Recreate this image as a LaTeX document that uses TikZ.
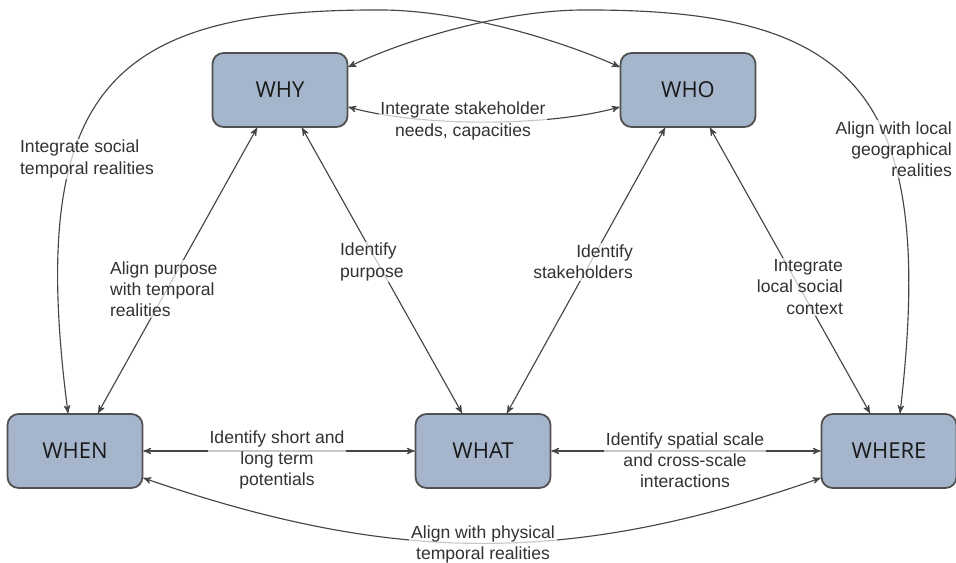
\documentclass[tikz,border=0pt]{standalone}
\usepackage{fontspec}
\setmainfont{Liberation Sans}
\newfontfamily\boxfont{Open Sans}
\usetikzlibrary{arrows,shapes}
\definecolor{boxblue}{RGB}{165,181,203}
\definecolor{boxline}{RGB}{80,80,80}
\definecolor{linkgray}{RGB}{70,70,70}
\definecolor{textgray}{RGB}{50,50,50}

\begin{document}
\begin{tikzpicture}[>=stealth',x=0.02cm,y=-0.02cm]
  \tikzset{box/.style={draw=boxline,line width=1pt,fill=boxblue,rounded corners=0.22cm,
                       minimum width=2.7cm,minimum height=1.48cm,
                       font=\boxfont\fontsize{12.5}{14}\selectfont,text=black!90},
           link/.style={<->,draw=linkgray,line width=0.65pt},
           lbl/.style={font=\fontsize{10}{12}\selectfont,text=textgray,inner sep=1pt,
                       fill=white,fill opacity=0.7,text opacity=1}}
  \useasboundingbox (0,0) rectangle (956,563);
  % the five questions
  \node[box] (why)   at (280,90)  {WHY};
  \node[box] (who)   at (688,90)  {WHO};
  \node[box] (when)  at (75,451)  {WHEN};
  \node[box] (what)  at (483,451) {WHAT};
  \node[box] (where) at (889,451) {WHERE};
  % straight links
  \path[link] ([xshift=-0.46cm]why.south) -- ([xshift=0.46cm]when.north);
  \path[link] ([xshift=0.44cm]why.south)  -- ([xshift=-0.42cm]what.north);
  \path[link] ([xshift=-0.46cm]who.south) -- ([xshift=0.48cm]what.north);
  \path[link] ([xshift=0.44cm]who.south)  -- ([xshift=-0.38cm]where.north);
  \path[link] (when) -- (what);
  \path[link] (what) -- (where);
  % curved links
  \path[link] ([yshift=-0.34cm]why.east) .. controls (420,127) and (548,127) .. ([yshift=-0.34cm]who.west);
  \path[link] ([yshift=-0.54cm]when.east) .. controls (395,565) and (572,565) .. ([yshift=-0.54cm]where.west);
  \path[link] ([xshift=-0.14cm]when.north) .. controls (26,90) and (110,9) .. (380,10)
              .. controls (460,10) and (560,40) .. ([yshift=0.46cm]who.west);
  \path[link] ([xshift=0.22cm]where.north) .. controls (938,90) and (854,9) .. (584,10)
              .. controls (504,10) and (404,40) .. ([yshift=0.46cm]why.east);
  % labels
  \node[lbl,align=center] (l-whywho)    at (463,121) {Integrate stakeholder\\needs, capacities};
  \node[lbl,align=center] (l-whenwhat)  at (277,460) {Identify short and\\long term\\potentials};
  \node[lbl,align=center] (l-whatwhere) at (685,460) {Identify spatial scale\\and cross-scale\\interactions};
  \node[lbl,align=center] (l-whenwhere) at (483,544) {Align with physical\\temporal realities};
  \node[lbl,align=left,anchor=west]  (l-whywhen)  at (108,289) {Align purpose\\with temporal\\realities};
  \node[lbl,align=left,anchor=west]  (l-whywhat)  at (338,262) {Identify\\purpose};
  \node[lbl,align=right,anchor=east] (l-whowhat)  at (635,262) {Identify\\stakeholders};
  \node[lbl,align=right,anchor=east] (l-whowhere) at (845,287) {Integrate\\local social\\context};
  \node[lbl,align=left,anchor=west]  (l-whenwho)  at (18,159)  {Integrate social\\temporal realities};
  \node[lbl,align=right,anchor=east] (l-wherewhy) at (954,149) {Align with local\\geographical\\realities};
\end{tikzpicture}
\end{document}
